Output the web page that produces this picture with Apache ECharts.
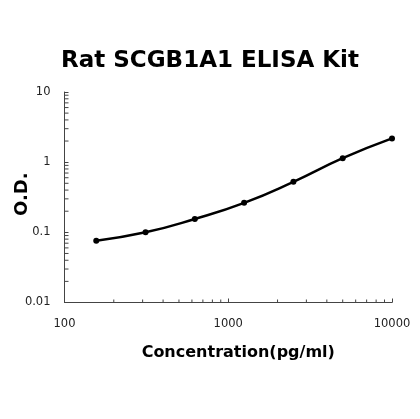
<!DOCTYPE html>
<html>
<head>
<meta charset="utf-8">
<title>Rat SCGB1A1 ELISA Kit</title>
<style>
  html, body { margin: 0; padding: 0; background: #fff; }
  #main { width: 420px; height: 419px; }
</style>
</head>
<body>
<div id="main"></div>
<script src="https://cdn.jsdelivr.net/npm/echarts@6/dist/echarts.min.js"></script>
<script>
// standard curve points (concentration pg/ml, O.D.)
var concentrations = [156.25, 312.5, 625, 1250, 2500, 5000, 10000];
var odValues = [0.076, 0.1, 0.155, 0.263, 0.525, 1.14, 2.18];

// minor ticks of the log axes (2..9 in every decade)
var xMinorTicks = [200, 300, 400, 500, 600, 700, 800, 900,
                   2000, 3000, 4000, 5000, 6000, 7000, 8000, 9000];
var yMinorTicks = [0.02, 0.03, 0.04, 0.05, 0.06, 0.07, 0.08, 0.09,
                   0.2, 0.3, 0.4, 0.5, 0.6, 0.7, 0.8, 0.9,
                   2, 3, 4, 5, 6, 7, 8, 9];

var font = 'DejaVu Sans, Verdana, sans-serif';
var axisColor = '#444';

var myChart = echarts.init(document.getElementById('main'));

// draws small inward tick marks at given values, through the axis scale
function tickSeries(values, isX) {
  return {
    type: 'custom',
    silent: true,
    clip: false,
    z: 5,
    data: values,
    renderItem: function (params, api) {
      var v = api.value(0);
      var p, shape;
      if (isX) {
        p = api.coord([v, 0.01]);
        shape = { x1: p[0], y1: p[1], x2: p[0], y2: p[1] - 3 };
      } else {
        p = api.coord([100, v]);
        shape = { x1: p[0], y1: p[1], x2: p[0] + 4, y2: p[1] };
      }
      return {
        type: 'line',
        shape: shape,
        style: { stroke: axisColor, lineWidth: 1 }
      };
    }
  };
}

myChart.setOption({
  backgroundColor: '#fff',
  animation: false,
  title: {
    text: 'Rat SCGB1A1 ELISA Kit',
    left: 'center',
    top: 45,
    textStyle: { fontFamily: font, fontSize: 23, fontWeight: 'bold', color: '#000' }
  },
  grid: { left: 64.5, right: 28, top: 92, bottom: 116.5, containLabel: false, outerBoundsMode: 'none' },
  xAxis: {
    type: 'log',
    logBase: 10,
    min: 100,
    max: 10000,
    name: 'Concentration(pg/ml)',
    nameLocation: 'middle',
    nameGap: 42,
    nameMoveOverlap: false,
    nameTextStyle: { fontFamily: font, fontSize: 16, fontWeight: 'bold', color: '#000', padding: [0, 0, 0, 20] },
    axisLine: { lineStyle: { color: axisColor, width: 1 } },
    axisTick: { inside: true, length: 4, lineStyle: { color: axisColor } },
    splitLine: { show: false },
    axisLabel: {
      fontFamily: font, fontSize: 11.5, color: '#222', margin: 16,
      formatter: function (v) { return String(Math.round(v)); }
    }
  },
  yAxis: {
    type: 'log',
    logBase: 10,
    min: 0.01,
    max: 10,
    name: 'O.D.',
    nameLocation: 'middle',
    nameGap: 33,
    nameMoveOverlap: false,
    nameTextStyle: { fontFamily: font, fontSize: 18, fontWeight: 'bold', color: '#000', padding: [0, 0, 0, 6] },
    axisLine: { show: true, lineStyle: { color: axisColor, width: 1 } },
    axisTick: { show: true, inside: true, length: 4, lineStyle: { color: axisColor } },
    splitLine: { show: false },
    axisLabel: {
      fontFamily: font, fontSize: 11.5, color: '#222', margin: 14,
      formatter: function (v) { return String(Number(v.toPrecision(3))); }
    }
  },
  series: [
    tickSeries(xMinorTicks, true),
    tickSeries(yMinorTicks, false),
    {
      type: 'line',
      smooth: true,
      data: concentrations.map(function (c, i) { return [c, odValues[i]]; }),
      symbol: 'circle',
      symbolSize: 6,
      itemStyle: { color: '#000' },
      lineStyle: { color: '#000', width: 2.5 },
      z: 10
    }
  ]
});
</script>
</body>
</html>
